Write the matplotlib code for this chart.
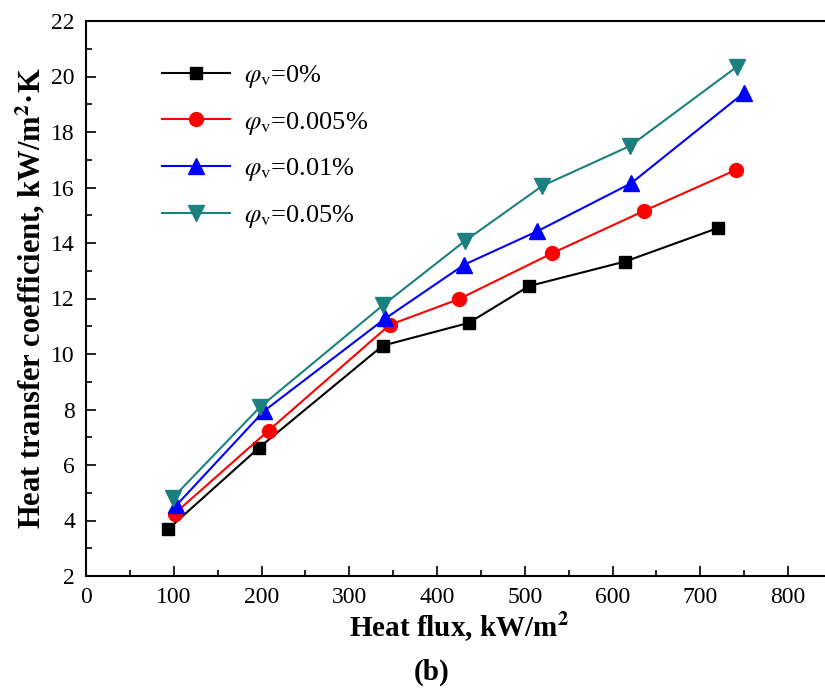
import matplotlib
matplotlib.use('Agg')
import matplotlib.pyplot as plt
from matplotlib.ticker import MultipleLocator

plt.rcParams['font.family'] = ['Liberation Serif', 'DejaVu Serif']
plt.rcParams['mathtext.fontset'] = 'stix'

# Heat flux (kW/m2) and heat transfer coefficient (kW/m2.K) for each volume fraction
q_0 = [94, 197, 338, 436, 505, 614, 720]
h_0 = [3.70, 6.62, 10.30, 11.12, 12.45, 13.33, 14.54]

q_0005 = [101, 208, 346, 425, 531, 636, 741]
h_0005 = [4.25, 7.24, 11.05, 11.98, 13.63, 15.16, 16.64]

q_001 = [103, 203, 341, 431, 514, 621, 750]
h_001 = [4.55, 7.95, 11.28, 13.22, 14.42, 16.15, 19.42]

q_005 = [99, 198, 338, 432, 520, 620, 742]
h_005 = [4.82, 8.08, 11.75, 14.08, 16.06, 17.50, 20.36]

labels = [r'$\varphi_{\rm v}$=0%', r'$\varphi_{\rm v}$=0.005%',
          r'$\varphi_{\rm v}$=0.01%', r'$\varphi_{\rm v}$=0.05%']

fig = plt.figure(figsize=(8.25, 6.95), dpi=100)
# axes runs past the right edge, like the cropped original
ax = fig.add_axes([86 / 825, 1 - 576 / 695, 746 / 825, 555 / 695])

ax.plot(q_0, h_0, color='black', marker='s', markersize=9, lw=1.5, label=labels[0])
ax.plot(q_0005, h_0005, color='red', marker='o', markersize=10, lw=1.5, label=labels[1])
ax.plot(q_001, h_001, color='blue', marker='^', markersize=11, lw=1.5, label=labels[2])
ax.plot(q_005, h_005, color='#1a8080', marker='v', markersize=11, lw=1.5, label=labels[3])

ax.set_xlim(0, 850)
ax.set_ylim(2, 22)
ax.xaxis.set_major_locator(MultipleLocator(100))
ax.xaxis.set_minor_locator(MultipleLocator(50))
ax.yaxis.set_major_locator(MultipleLocator(2))
ax.yaxis.set_minor_locator(MultipleLocator(1))
ax.tick_params(which='both', direction='in', labelsize=17)
ax.tick_params(which='major', length=7, width=1.2, pad=8)
ax.tick_params(which='minor', length=4, width=1.2)
ax.set_xticks([0, 100, 200, 300, 400, 500, 600, 700, 800])
for s in ax.spines.values():
    s.set_linewidth(1.5)

ax.set_xlabel('Heat flux, kW/m$^{\\mathbf{2}}$', fontsize=21, fontweight='bold', labelpad=2)
ax.set_ylabel('Heat transfer coefficient, kW/m$^{\\mathbf{2}}$·K', fontsize=22,
              fontweight='bold', labelpad=2)
fig.text(432 / 825, 1 - 672 / 695, '(b)', fontsize=21, fontweight='bold',
         ha='center', va='center')

ax.legend(loc='upper left', bbox_to_anchor=(138 / 825, 1 - 39 / 695),
          bbox_transform=fig.transFigure, frameon=False, fontsize=19,
          handlelength=2.6, labelspacing=0.75, handletextpad=0.5)

fig.savefig('out.png', dpi=100)
